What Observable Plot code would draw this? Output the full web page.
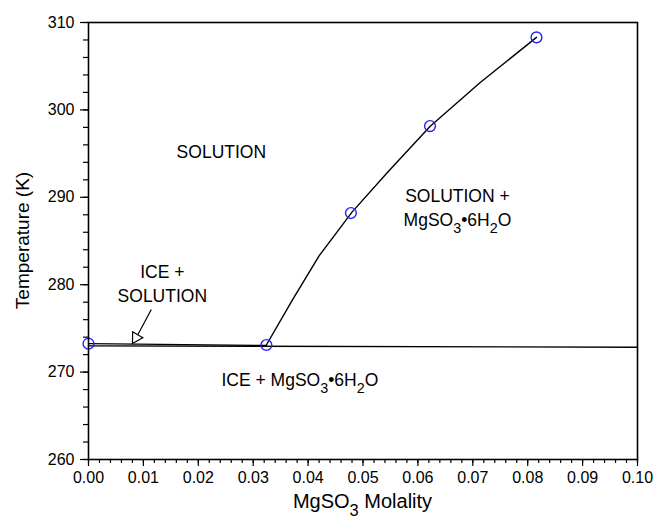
<!DOCTYPE html>
<html>
<head>
<meta charset="utf-8">
<script src="https://cdn.jsdelivr.net/npm/d3@7"></script>
<script src="https://cdn.jsdelivr.net/npm/@observablehq/plot@0.6"></script>
<style>
  html, body { margin: 0; padding: 0; background: #fff; }
  #chart svg { display: block; }
</style>
</head>
<body>
<div id="chart"></div>
<script>
// Measured points (circles)
const measX = [0, 0.0324, 0.0478, 0.0622, 0.0816];
const measT = [273.25, 273.1, 288.2, 298.15, 308.3];

// Solubility curve of MgSO3·6H2O
const curveX = [0.0324, 0.0371, 0.0420, 0.0480, 0.0544, 0.0622, 0.0713, 0.0816];
const curveT = [273.1, 278.2, 283.3, 288.3, 292.8, 298.1, 303.1, 308.3];

// Ice liquidus (freezing-point depression)
const iceX = [0, 0.0324];
const iceT = [273.25, 273.05];

// Eutectic line
const eutX = [0, 0.10];
const eutT = [273.0, 272.85];

// Region labels
const labelText = ["SOLUTION", "ICE +", "SOLUTION", "SOLUTION +", "MgSO_3•6H_2O", "ICE + MgSO_3•6H_2O"];
const labelX = [0.0242, 0.01345, 0.01345, 0.0672, 0.0672, 0.0385];
const labelT = [295.1, 281.4, 278.65, 290.1, 287.35, 269.0];

// Annotation arrow (ICE + SOLUTION)
const arrowFromX = [0.01144], arrowFromT = [277.16];
const arrowToX = [0.00898], arrowToT = [274.27];
const arrowHeadX = [0.00865], arrowHeadT = [273.94];

// Axis ticks
const xTicks = [0, 0.01, 0.02, 0.03, 0.04, 0.05, 0.06, 0.07, 0.08, 0.09, 0.10];
const xMinor = d3.range(0, 51).map(i => i * 0.002);
const yTicks = [260, 270, 280, 290, 300, 310];
const yMinor = d3.range(260, 311, 2);

const font = "'Liberation Sans', Arial, Helvetica, sans-serif";

const meas = measX.map((x, i) => ({x, t: measT[i]}));
const curve = curveX.map((x, i) => ({x, t: curveT[i]}));
const ice = iceX.map((x, i) => ({x, t: iceT[i]}));
const eut = eutX.map((x, i) => ({x, t: eutT[i]}));
const labels = labelText.map((s, i) => ({s, x: labelX[i], t: labelT[i]}));

const W = 658, H = 520;
const mL = 88, mR = 21, mT = 22, mB = 61;

const svg = Plot.plot({
  width: W, height: H,
  marginLeft: mL, marginRight: mR, marginTop: mT, marginBottom: mB,
  style: {fontFamily: font, background: "#fff", color: "#000", overflow: "visible"},
  x: {domain: [0, 0.1]},
  y: {domain: [260, 310]},
  marks: [
    Plot.axisX({ticks: xMinor, tickSize: 4, tickFormat: null, text: null, label: null, strokeWidth: 1.2}),
    Plot.axisX({ticks: xTicks, tickSize: 7, tickPadding: 5, tickFormat: d3.format(".2f"), label: null, fontSize: 16, strokeWidth: 1.2}),
    Plot.axisY({ticks: yMinor, tickSize: 5, text: null, label: null, strokeWidth: 1.2}),
    Plot.axisY({ticks: yTicks, tickSize: 8, tickPadding: 6, tickFormat: d => String(d), label: null, fontSize: 16, strokeWidth: 1.2}),
    Plot.line(eut, {x: "x", y: "t", stroke: "#000", strokeWidth: 1.4}),
    Plot.line(ice, {x: "x", y: "t", stroke: "#000", strokeWidth: 1.2}),
    Plot.line(curve, {x: "x", y: "t", stroke: "#000", strokeWidth: 1.4}),
    Plot.dot(meas, {x: "x", y: "t", r: 5.4, stroke: "#2424ee", strokeWidth: 1.4, fill: "none"}),
    Plot.link({length: 1}, {x1: arrowFromX, y1: arrowFromT, x2: arrowToX, y2: arrowToT, stroke: "#000", strokeWidth: 1.2}),
    Plot.dot({length: 1}, {x: arrowHeadX, y: arrowHeadT, symbol: "triangle", r: 4.4, rotate: 211, fill: "#fff", stroke: "#000", strokeWidth: 1.2}),
    Plot.text(labels, {x: "x", y: "t", text: "s", fontSize: 17.5, fill: "#000", textAnchor: "middle"}),
    Plot.frame({stroke: "#000", strokeWidth: 1.6})
  ]
});

// Axis titles
const s = d3.select(svg);
s.append("text")
  .attr("x", mL + (W - mL - mR) / 2)
  .attr("y", 508)
  .attr("text-anchor", "middle")
  .attr("font-size", 20)
  .attr("font-family", font)
  .attr("fill", "#000")
  .text("MgSO_3 Molality");
s.append("text")
  .attr("transform", `translate(29, ${mT + (H - mT - mB) / 2}) rotate(-90)`)
  .attr("text-anchor", "middle")
  .attr("font-size", 19)
  .attr("font-family", font)
  .attr("fill", "#000")
  .text("Temperature (K)");

// Subscripts: "_d" -> lowered, smaller digit
s.selectAll("text").each(function() {
  const str = this.textContent;
  if (!str.includes("_")) return;
  const el = d3.select(this);
  const fs = parseFloat(el.attr("font-size")) || parseFloat(getComputedStyle(this).fontSize) || 17.5;
  el.text(null);
  const parts = str.split(/(_\d)/).filter(p => p.length);
  let shifted = false;
  const shift = fs * 0.4;
  for (const p of parts) {
    if (p.startsWith("_")) {
      el.append("tspan").attr("dy", shift).attr("font-size", fs * 0.82).text(p.slice(1));
      shifted = true;
    } else {
      const t = el.append("tspan").text(p);
      if (shifted) { t.attr("dy", -shift); shifted = false; }
    }
  }
});

document.getElementById("chart").appendChild(svg);
</script>
</body>
</html>
